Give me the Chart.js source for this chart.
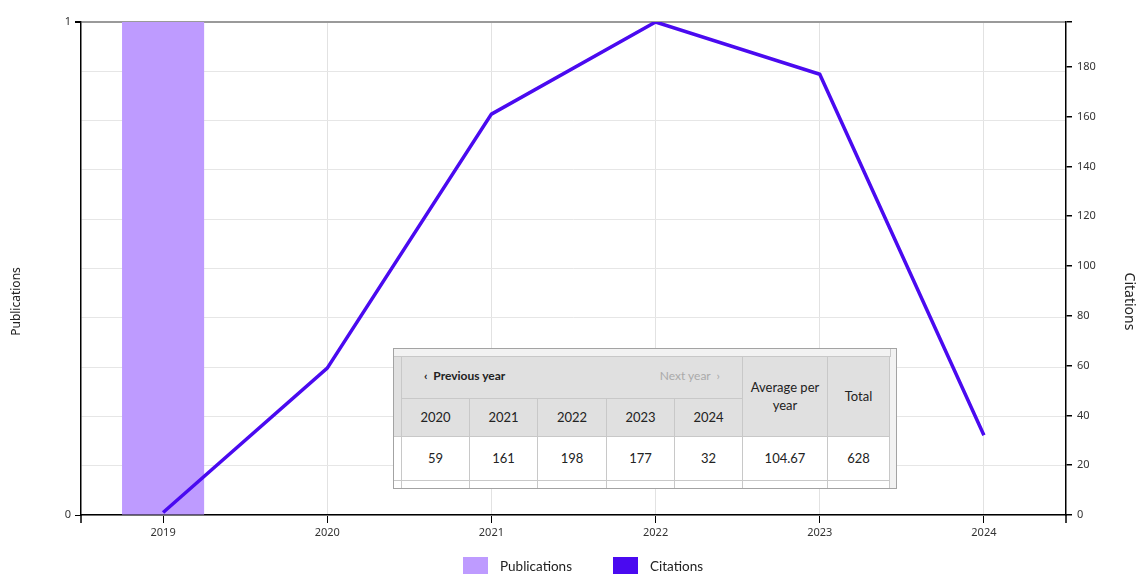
<!DOCTYPE html>
<html>
<head>
<meta charset="utf-8">
<script src="https://cdn.jsdelivr.net/npm/chart.js@4.4.1/dist/chart.umd.min.js"></script>
<style>
  html, body { margin: 0; padding: 0; background: #fff; }
  #wrap { position: relative; width: 1137px; height: 574px; overflow: hidden; }
  #chart { position: absolute; left: 0; top: 0; }
  #citeBox {
    position: absolute; left: 393px; top: 348px; width: 502px; height: 139px;
    border: 1px solid #a3a3a3; background: #f2f2f2; overflow: hidden;
    font-family: Lato, "Noto Sans", sans-serif; font-size: 13px; color: #222;
  }
  .cell {
    position: absolute; box-sizing: border-box; display: flex;
    align-items: center; justify-content: center; text-align: center;
    border-right: 1px solid #c8c8c8; border-bottom: 1px solid #c8c8c8;
    line-height: 1.35;
  }
  .head { background: #e0e0e0; }
  .body { background: #fff; }
  .nav { justify-content: space-between; padding: 0 22px 2px 22px; }
  .prev { font-weight: bold; font-size: 12px; }
  .next { color: #aaa; font-size: 12px; }
  #legend {
    position: absolute; left: 463px; top: 557px; display: flex; align-items: center;
    font-family: Lato, "Noto Sans", sans-serif; font-size: 13.5px; color: #222;
  }
  .item { display: flex; align-items: center; margin-right: 41px; }
  .swatch { width: 25px; height: 17px; margin-right: 12px; }
</style>
</head>
<body>
<div id="wrap">
  <canvas id="chart" width="1137" height="574"></canvas>
  <div id="citeBox"></div>
  <div id="legend"></div>
</div>
<script>
// Yearly output and citation counts
const years = ['2019', '2020', '2021', '2022', '2023', '2024'];
const publications = [1, 0, 0, 0, 0, 0];
const citations = [1, 59, 161, 198, 177, 32];

// Axis ticks
const pubTickLabels = [0, 1];
const citationStep = 20;
const citationMax = Math.max(...citations);

const pubColor = '#be9bff';
const citeColor = '#4a0af0';
const FONT = '"Noto Sans", Lato, sans-serif';

// small downward marks at both ends of the category axis
const axisEnds = {
  id: 'axisEnds',
  afterDraw(chart) {
    const { ctx, chartArea } = chart;
    ctx.save();
    ctx.strokeStyle = '#000';
    ctx.lineWidth = 1.5;
    [chartArea.left, chartArea.right].forEach(x => {
      ctx.beginPath();
      ctx.moveTo(x, chartArea.bottom);
      ctx.lineTo(x, chartArea.bottom + 8);
      ctx.stroke();
    });
    ctx.restore();
  }
};

// vertical axis titles, set a little below the plot's middle
const axisTitles = {
  id: 'axisTitles',
  afterDraw(chart) {
    const { ctx, chartArea } = chart;
    const y = (chartArea.top + chartArea.bottom) / 2 + 33;
    ctx.save();
    ctx.fillStyle = '#222';
    ctx.textAlign = 'center';
    ctx.textBaseline = 'middle';

    ctx.save();
    ctx.translate(17, y);
    ctx.rotate(-Math.PI / 2);
    ctx.font = '12px ' + FONT;
    ctx.fillText('Publications', 0, 0);
    ctx.restore();

    ctx.save();
    ctx.translate(chart.width - 8, y);
    ctx.rotate(Math.PI / 2);
    ctx.font = '14px ' + FONT;
    ctx.fillText('Citations', 0, 0);
    ctx.restore();

    ctx.restore();
  }
};

const isPubLabel = v => pubTickLabels.some(t => Math.abs(t - v) < 1e-9);

const chart = new Chart(document.getElementById('chart'), {
  data: {
    labels: years,
    datasets: [
      {
        type: 'line', label: 'Citations', data: citations, yAxisID: 'yCit',
        borderColor: citeColor, backgroundColor: citeColor, borderWidth: 3.5,
        pointRadius: 0, tension: 0, borderJoinStyle: 'miter', order: 1
      },
      {
        type: 'bar', label: 'Publications', data: publications, yAxisID: 'yPub',
        backgroundColor: pubColor, borderWidth: 0,
        barPercentage: 0.5, categoryPercentage: 1, order: 2
      }
    ]
  },
  options: {
    responsive: false,
    animation: false,
    layout: { padding: { top: 22, bottom: 29, left: 0, right: 0 } },
    plugins: { legend: { display: false }, tooltip: { enabled: false } },
    scales: {
      x: {
        offset: true,
        afterFit: s => { s.height = 30; },
        grid: { offset: false, color: '#e2e2e2', tickColor: '#000', tickLength: 8, lineWidth: 1 },
        border: { color: '#000', width: 1.5 },
        ticks: { color: '#333', font: { family: FONT, size: 11 }, padding: 3, maxRotation: 0 }
      },
      yPub: {
        position: 'left', min: 0, max: 1,
        afterFit: s => { s.width = 81; },
        ticks: {
          stepSize: 0.1, color: '#333', font: { family: FONT, size: 11 }, padding: 4,
          callback: v => isPubLabel(v) ? String(Math.round(v)) : ''
        },
        grid: {
          tickLength: 6,
          color: c => Math.abs(c.tick.value - 1) < 1e-9 ? '#9a9a9a' : '#e6e6e6',
          lineWidth: c => Math.abs(c.tick.value - 1) < 1e-9 ? 2 : 1,
          tickColor: c => isPubLabel(c.tick.value) ? '#000' : 'rgba(0,0,0,0)'
        },
        border: { color: '#000', width: 1.5 }
      },
      yCit: {
        position: 'right', min: 0, max: citationMax,
        afterFit: s => { s.width = 71; },
        ticks: {
          stepSize: citationStep, color: '#333', font: { family: FONT, size: 11 }, padding: 5,
          callback: v => v % citationStep === 0 ? String(v) : ''
        },
        grid: { drawOnChartArea: false, tickLength: 6, tickColor: '#000', lineWidth: 1.5 },
        border: { color: '#000', width: 1.5 }
      }
    }
  },
  plugins: [axisEnds, axisTitles]
});

// Legend row
const legend = document.getElementById('legend');
[['Publications', pubColor], ['Citations', citeColor]].forEach(([name, color]) => {
  const it = document.createElement('div');
  it.className = 'item';
  it.innerHTML = '<div class="swatch" style="background:' + color + '"></div><span>' + name + '</span>';
  legend.appendChild(it);
});

// Citation summary table (last five years)
const box = document.getElementById('citeBox');
const OX = 394, OY = 349;
function cell(x0, y0, x1, y1, html, cls) {
  const d = document.createElement('div');
  d.className = 'cell ' + (cls || '');
  d.style.left = (x0 - OX) + 'px';
  d.style.top = (y0 - OY) + 'px';
  d.style.width = (x1 - x0 + 1) + 'px';
  d.style.height = (y1 - y0 + 1) + 'px';
  d.innerHTML = html;
  box.appendChild(d);
  return d;
}
const shownYears = years.slice(-5);
const shownCites = citations.slice(-5);
const total = citations.reduce((a, b) => a + b, 0);
const average = (total / citations.length).toFixed(2);
const colX = [402, 470, 538, 607, 675, 743];
const R0 = 357, R1 = 399, R2 = 437, R3 = 481, R4 = 520;

// top strip and left partial column
cell(393, 348, 890, R0 - 1, '', '').style.background = '#f2f2f2';
cell(393, R0, colX[0] - 1, R2 - 1, '', 'head');
cell(393, R2, colX[0] - 1, R3 - 1, '', 'body');
cell(393, R3, colX[0] - 1, R4, '', 'body');

cell(colX[0], R0, colX[5] - 1, R1 - 1,
  '<span class="prev">&#8249;&nbsp; Previous year</span><span class="next">Next year &nbsp;&#8250;</span>', 'head nav');
cell(743, R0, 827, R2 - 1, 'Average per<br>year', 'head');
cell(828, R0, 889, R2 - 1, 'Total', 'head');
shownYears.forEach((y, i) => {
  cell(colX[i], R1, colX[i + 1] - 1, R2 - 1, y, 'head');
  cell(colX[i], R2, colX[i + 1] - 1, R3 - 1, String(shownCites[i]), 'body');
  cell(colX[i], R3, colX[i + 1] - 1, R4, '', 'body');
});
cell(743, R2, 827, R3 - 1, average, 'body');
cell(828, R2, 889, R3 - 1, String(total), 'body');
cell(743, R3, 827, R4, '', 'body');
cell(828, R3, 889, R4, '', 'body');
</script>
</body>
</html>
